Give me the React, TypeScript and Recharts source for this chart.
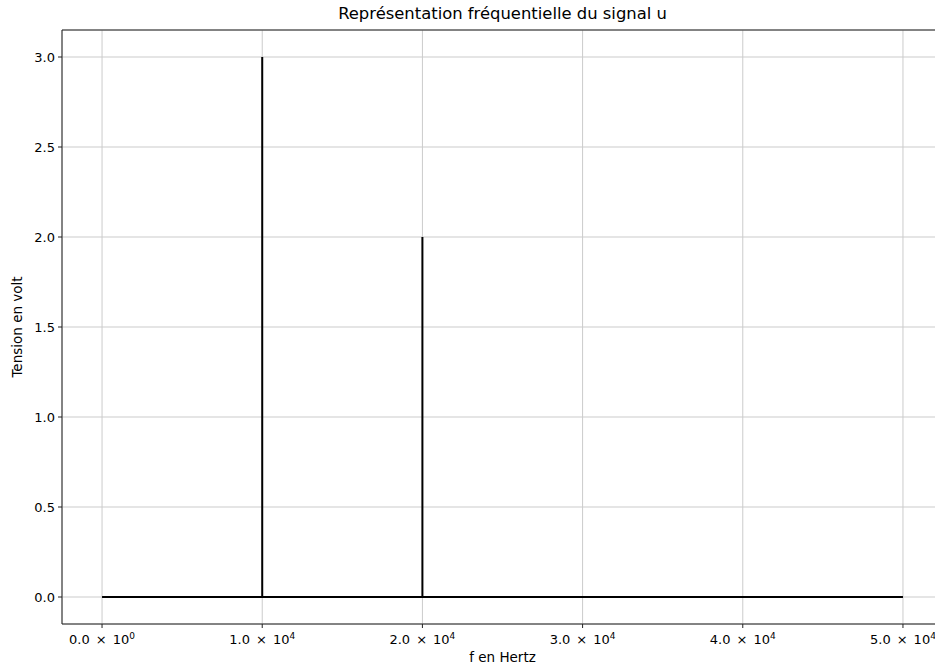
import { LineChart, Line, XAxis, YAxis, CartesianGrid, ReferenceLine } from 'recharts';

// spectre : raies à 10 kHz (3 V) et 20 kHz (2 V)
const freqs = [0, 10000, 10000, 10000, 20000, 20000, 20000, 50000];
const volts = [0, 0, 3, 0, 0, 2, 0, 0];

const xTicks = [0, 10000, 20000, 30000, 40000, 50000];
const yTicks = [0, 0.5, 1, 1.5, 2, 2.5, 3];

const data = freqs.map((f, i) => ({ f, u: volts[i] }));

const FONT = '"DejaVu Sans", sans-serif';

function SciTick(props: any) {
    const { x, y, payload } = props;
    const v = payload.value as number;
    const exp = v === 0 ? 0 : Math.floor(Math.log10(Math.abs(v)));
    const mant = (v / Math.pow(10, exp)).toFixed(1);
    return (
        <text x={x} y={y + 14} textAnchor="middle" fontFamily={FONT} fontSize={13} fill="#000">
            <tspan>{mant}</tspan>
            <tspan dx={6}>×</tspan>
            <tspan dx={6}>10</tspan>
            <tspan dy={-5} fontSize={9}>{exp}</tspan>
        </text>
    );
}

export default function App() {
    return (
        <div
            style={{
                position: 'fixed',
                top: 0,
                left: 0,
                width: 935,
                height: 666,
                overflow: 'hidden',
                background: '#fff',
                fontFamily: FONT,
            }}
        >
            <LineChart
                width={960}
                height={666}
                data={data}
                margin={{ top: 30, right: 17, bottom: 0, left: 0 }}
            >
                <CartesianGrid stroke="#cbcbcb" strokeWidth={1} />
                <XAxis
                    dataKey="f"
                    type="number"
                    domain={[-2500, 52500]}
                    ticks={xTicks}
                    allowDataOverflow
                    height={42}
                    stroke="#222"
                    tickSize={4}
                    tick={<SciTick />}
                />
                <YAxis
                    type="number"
                    domain={[-0.15, 3.15]}
                    ticks={yTicks}
                    allowDataOverflow
                    width={62}
                    stroke="#222"
                    tickSize={4}
                    tickMargin={3}
                    tickFormatter={(v: number) => v.toFixed(1)}
                    tick={{ fill: '#000', fontSize: 13, fontFamily: FONT }}
                />
                <ReferenceLine y={3.15} stroke="#222" strokeWidth={1} />
                <Line
                    type="linear"
                    dataKey="u"
                    stroke="#000"
                    strokeWidth={2}
                    dot={false}
                    activeDot={false}
                    isAnimationActive={false}
                />
            </LineChart>
            <div
                style={{
                    position: 'absolute',
                    top: 4,
                    left: 62,
                    width: 881,
                    textAlign: 'center',
                    fontSize: 16.4,
                    color: '#000',
                }}
            >
                Représentation fréquentielle du signal u
            </div>
            <div
                style={{
                    position: 'absolute',
                    top: 649,
                    left: 62,
                    width: 881,
                    textAlign: 'center',
                    fontSize: 13.5,
                    color: '#000',
                }}
            >
                f en Hertz
            </div>
            <div
                style={{
                    position: 'absolute',
                    left: 17,
                    top: 327,
                    transform: 'translate(-50%, -50%) rotate(-90deg)',
                    whiteSpace: 'nowrap',
                    fontSize: 13.5,
                    color: '#000',
                }}
            >
                Tension en volt
            </div>
        </div>
    );
}
